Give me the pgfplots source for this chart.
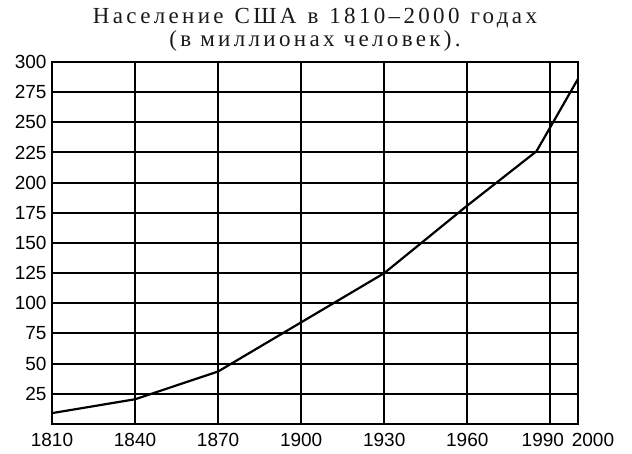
\documentclass[border=0pt]{standalone}
\usepackage{fontspec}
\usepackage{pgfplots}
\pgfplotsset{compat=1.18}
\setmainfont{Liberation Serif}
\newfontfamily\titlefont[LetterSpace=14.5]{Liberation Serif}
\newfontfamily\tickfont{Liberation Sans}
\newcommand{\wsp}{\hspace{11pt}}
\begin{document}
\begin{tikzpicture}
\useasboundingbox (-52pt,-30pt) rectangle (580pt,424pt);
\begin{axis}[
  at={(0pt,0pt)}, anchor=origin,
  scale only axis,
  width=526pt, height=362pt,
  xmin=1810, xmax=2000, ymin=0, ymax=300,
  xtick={1810,1840,1870,1900,1930,1960,1990,2000},
  xticklabels={1810,1840,1870,1900,1930,1960,{\makebox[0pt]{\kern-15pt 1990}},{\makebox[0pt]{\kern30pt 2000}}},
  ytick={25,50,75,100,125,150,175,200,225,250,275,300},
  /pgf/number format/assume math mode=true,
  /pgf/number format/set thousands separator={},
  major tick length=0pt,
  grid=major,
  grid style={line width=2pt, black},
  axis line style={line width=2pt, black},
  ticklabel style={font=\tickfont\fontsize{19}{19}\selectfont, text=black},
  xticklabel style={yshift=-6pt},
  yticklabel style={xshift=-2pt},
  clip=false,
]
\addplot[black, line width=2.2pt, line join=round] coordinates {
  (1810,9) (1840,20.5) (1870,43.5) (1930,125) (1960,181) (1985,226) (2000,286)
};
\node[font=\titlefont\fontsize{23}{23}\selectfont, anchor=base, text=black!90] at ([yshift=38.7pt]rel axis cs:0.5,1) {Население\wsp США\wsp в\wsp 1810–2000\wsp годах};
\node[font=\titlefont\fontsize{23}{23}\selectfont, anchor=base, text=black!90] at ([yshift=15.5pt]rel axis cs:0.5,1) {(в миллионах человек).};
\end{axis}
\end{tikzpicture}
\end{document}
